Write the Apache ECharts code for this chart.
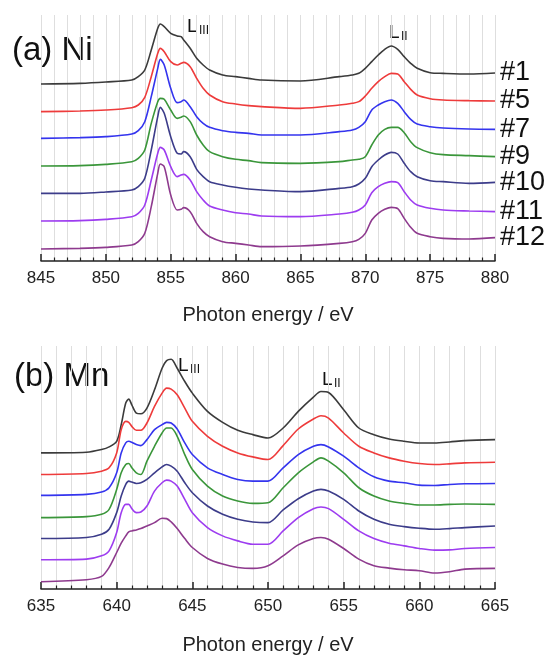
<!DOCTYPE html>
<html><head><meta charset="utf-8">
<script src="https://cdn.jsdelivr.net/npm/echarts@6/dist/echarts.min.js"></script>
<style>html,body{margin:0;padding:0;background:#fff}#c{width:553px;height:656px}</style>
</head><body><div id="c"></div>
<script>
// ---------- data (intensity in arbitrary units, offset traces) ----------
const sampleNames = ['#1', '#5', '#7', '#9', '#10', '#11', '#12'];
const niEnergy = [845, 848, 850, 852, 852.5, 853, 853.5, 854, 854.2, 854.5, 855, 855.5, 855.8, 856, 856.5, 857, 857.5, 858, 859, 860, 861, 862, 865, 868, 869, 869.5, 870, 870.5, 871, 871.5, 872, 872.5, 873, 873.5, 874, 875, 876, 878, 880];
const ni1  = [531,533,537,543,553,573,633,698,711,703,683,675,673,663,638,608,588,573,558,553,548,543,540,553,558,563,578,598,618,635,645,635,613,593,578,565,563,561,564];
const ni5  = [448,450,453,460,468,491,553,623,638,628,598,588,593,596,583,548,518,498,478,471,466,463,458,468,473,478,495,518,538,553,563,561,538,515,498,487,483,481,480];
const ni7  = [368,370,373,381,391,418,493,578,605,588,518,475,478,483,463,433,413,401,391,386,383,378,378,388,393,401,418,453,468,478,483,473,448,425,411,403,399,396,395];
const ni9  = [285,286,290,298,308,333,413,478,488,485,453,428,431,435,418,378,348,328,313,305,301,295,293,298,303,305,313,348,378,395,401,401,385,358,340,325,319,316,313];
const ni10 = [203,203,207,213,223,248,333,433,461,443,373,323,321,328,313,275,253,238,228,221,216,213,208,218,223,231,248,283,303,318,326,321,293,268,253,241,238,233,236];
const ni11 = [120,121,125,133,143,168,243,323,341,333,283,253,258,260,243,208,183,165,153,145,141,135,133,141,146,153,168,205,223,233,238,235,208,183,168,158,153,150,148];
const ni12 = [36,38,41,48,58,83,163,263,291,283,198,153,155,160,148,113,88,73,58,53,48,43,45,53,58,65,83,123,143,155,161,157,128,101,83,73,68,66,70];

const mnEnergy = [635, 638, 639, 639.5, 640, 640.3, 640.6, 640.8, 641, 641.3, 641.6, 642, 642.5, 643, 643.3, 643.6, 644, 644.5, 645, 646, 647, 648, 649, 650, 651, 652, 653, 653.5, 654, 655, 656, 657, 658, 659, 660, 661, 662, 663, 665];
const mn1  = [410,412,420,428,445,495,560,572,555,530,528,545,600,665,688,692,665,625,590,535,502,478,465,455,485,535,578,595,592,540,485,465,452,445,440,440,443,447,450];
const mn5  = [345,348,355,365,410,480,505,502,490,478,478,500,550,590,605,602,585,545,505,460,430,410,398,390,432,482,512,522,515,470,430,410,395,385,378,375,377,380,382];
const mn7  = [282,285,292,305,350,410,440,445,442,435,432,450,480,495,502,500,482,440,405,365,345,330,325,325,365,405,430,435,428,400,365,338,325,320,313,312,315,317,318];
const mn9  = [215,218,225,240,300,350,375,378,365,350,345,385,430,470,485,485,460,405,360,310,280,265,258,260,305,350,383,395,385,350,305,280,265,258,253,253,255,256,255];
const mn10 = [152,155,165,180,230,280,315,325,322,318,320,330,350,368,375,370,355,320,290,250,225,210,202,200,238,272,295,300,295,270,235,210,195,188,183,180,182,185,190];
const mn11 = [88,90,100,115,170,230,255,255,242,230,232,250,295,320,328,325,310,270,230,185,160,145,135,135,175,215,242,247,242,210,175,152,138,130,122,117,118,122,125];
const mn12 = [22,28,38,65,110,138,160,172,175,178,182,190,200,213,212,202,182,152,125,92,75,65,62,70,100,133,152,155,150,122,90,70,63,58,55,48,52,60,62];

const niTicks = [845, 850, 855, 860, 865, 870, 875, 880];
const mnTicks = [635, 640, 645, 650, 655, 660, 665];
const colors = ['#3b3b3b', '#ee3b3b', '#3434ee', '#3a963a', '#3c3c8a', '#9d3cf0', '#8e3a8e'];

// ---------- chart ----------
const FONT = 'Liberation Sans, Arial, sans-serif';
const niSeries = [ni1, ni5, ni7, ni9, ni10, ni11, ni12];
const mnSeries = [mn1, mn5, mn7, mn9, mn10, mn11, mn12];
const zip = (xs, ys) => xs.map((x, i) => [x, ys[i]]);

function xAxisCfg(idx, min, max, nameGap) {
  return {
    type: 'value', gridIndex: idx, min: min, max: max, interval: 5,
    axisLine: { show: true, onZero: false, lineStyle: { color: '#222', width: 1.5 } },
    axisTick: { show: true, inside: true, length: 7, lineStyle: { color: '#222', width: 1.5 } },
    minorTick: { show: true, splitNumber: 5, length: 3.5, lineStyle: { color: '#222', width: 1.2 } },
    splitLine: { show: true, lineStyle: { color: '#dedede', width: 1 } },
    minorSplitLine: { show: true, lineStyle: { color: '#dedede', width: 1 } },
    axisLabel: { fontSize: 17, color: '#222', margin: 9, fontFamily: FONT },
    name: 'Photon energy / eV', nameLocation: 'middle', nameGap: nameGap,
    nameTextStyle: { fontSize: 20, color: '#222', fontFamily: FONT }
  };
}

const series = [];
niSeries.forEach((ys, i) => series.push({
  type: 'line', name: sampleNames[i], xAxisIndex: 0, yAxisIndex: 0,
  data: zip(niEnergy, ys), showSymbol: false, smooth: 0.3,
  lineStyle: { color: colors[i], width: 1.6 }, itemStyle: { color: colors[i] },
  endLabel: { show: true, formatter: sampleNames[i], fontSize: 27, color: '#111', distance: 5, fontFamily: FONT }
}));
mnSeries.forEach((ys, i) => series.push({
  type: 'line', name: sampleNames[i] + ' Mn', xAxisIndex: 1, yAxisIndex: 1,
  data: zip(mnEnergy, ys), showSymbol: false, smooth: 0.3,
  lineStyle: { color: colors[i], width: 1.6 }, itemStyle: { color: colors[i] }
}));

function txt(x, y, s, size) {
  return { type: 'text', left: x, top: y, style: { text: s, fontSize: size, fill: '#111', fontFamily: FONT } };
}

const option = {
  animation: false,
  backgroundColor: '#fff',
  grid: [
    { left: 41, right: 58, top: 15, height: 246 },
    { left: 41, right: 58, top: 346, height: 244 }
  ],
  xAxis: [xAxisCfg(0, niTicks[0], niTicks[niTicks.length - 1], 44), xAxisCfg(1, mnTicks[0], mnTicks[mnTicks.length - 1], 46)],
  yAxis: [
    { type: 'value', gridIndex: 0, min: 0, max: 738, show: false, splitLine: { show: false } },
    { type: 'value', gridIndex: 1, min: 0, max: 732, show: false, splitLine: { show: false } }
  ],
  graphic: [
    txt(12, 34, '(a) Ni', 33),
    txt(14, 360, '(b) Mn', 33),
    txt(187, 17, 'L', 19), txt(199, 25, 'III', 12),
    txt(389, 23, 'L', 19), txt(401, 31, 'II', 12),
    txt(178, 356, 'L', 19), txt(190, 364, 'III', 12),
    txt(322, 370, 'L', 19), txt(334, 378, 'II', 12)
  ],
  series: series
};

const chart = echarts.init(document.getElementById('c'), null, { renderer: 'canvas' });
chart.setOption(option);
</script>
</body></html>
